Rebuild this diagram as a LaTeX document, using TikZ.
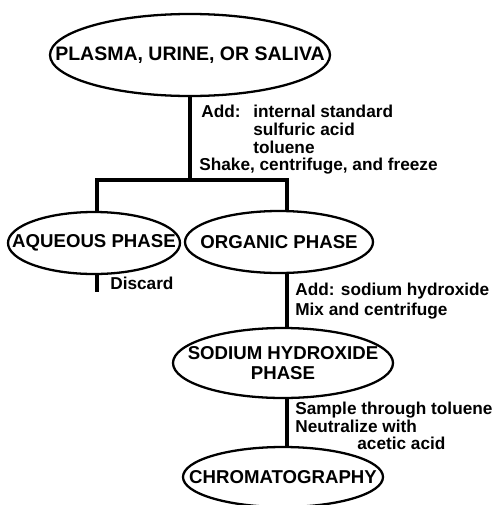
\documentclass[tikz,border=0pt]{standalone}
\usepackage{fontspec}
\setmainfont{Liberation Sans}
\usetikzlibrary{shapes.geometric}
\newcommand{\nowidth}[1]{\makebox[0pt]{#1}}
\tikzset{
  phase/.style={ellipse, draw, line width=1.3pt, inner sep=0pt, align=center,
    font=\fontsize{10.6}{11.4}\selectfont\bfseries},
  flow/.style={line width=1.9pt},
  note/.style={anchor=west, inner sep=0pt, font=\fontsize{9.8}{11}\selectfont\bfseries},
}
\begin{document}
\begin{tikzpicture}
    \useasboundingbox (0,0) rectangle (9.92,-10.1);

    % Các pha
    \node[phase, minimum width=5.6cm, minimum height=1.64cm, font=\fontsize{11.1}{12}\selectfont\bfseries]
        (plasma) at (3.8,-1.1) {\nowidth{PLASMA, URINE, OR SALIVA}};
    \node[phase, minimum width=3.44cm, minimum height=1.24cm] (aqueous) at (1.88,-4.86)
        {\nowidth{AQUEOUS PHASE}};
    \node[phase, minimum width=3.76cm, minimum height=1.24cm] (organic) at (5.58,-4.84)
        {\nowidth{ORGANIC PHASE}};
    \node[phase, minimum width=4.4cm, minimum height=1.4cm] (sodium) at (5.66,-7.26)
        {\nowidth{SODIUM HYDROXIDE}\\\nowidth{PHASE}};
    \node[phase, minimum width=4cm, minimum height=1.2cm] (chrom) at (5.66,-9.54)
        {\nowidth{CHROMATOGRAPHY}};

    % Điểm rẽ nhánh
    \coordinate (split) at (3.8,-3.6);
    \coordinate (lft) at (1.94,0);
    \coordinate (col) at (5.74,0);
    \coordinate (discard) at (1.94,-5.84);

    % Đường nối
    \draw[flow] (plasma) -- (split);
    \draw[flow] (aqueous.north -| lft) -- (lft |- split) -- (col |- split) -- (organic.north -| col);
    \draw[flow] (aqueous.south -| lft) -- (discard);
    \draw[flow] (organic.south -| col) -- (sodium.north -| col);
    \draw[flow] (sodium.south -| col) -- (chrom.north -| col);

    % Ghi chú
    \node[note] (add1) at (4.02,-2.22) {Add:};
    \node[note] (std) at (5.06,-2.22) {internal standard};
    \node[note] (acid) at (5.06,-2.58) {sulfuric acid};
    \node[note] (tol) at (5.06,-2.94) {toluene};
    \node[note] (shake) at (3.98,-3.32) {Shake, centrifuge, and freeze};
    \node[note] (disc) at (2.2,-5.66) {Discard};
    \node[note] (add2) at (5.9,-5.82) {Add: sodium hydroxide};
    \node[note] (mix) at (5.9,-6.22) {Mix and centrifuge};
    \node[note] (sample) at (5.9,-8.2) {Sample through toluene};
    \node[note] (neut) at (5.9,-8.53) {Neutralize with};
    \node[note] (acetic) at (7.14,-8.87) {acetic acid};
\end{tikzpicture}
\end{document}
